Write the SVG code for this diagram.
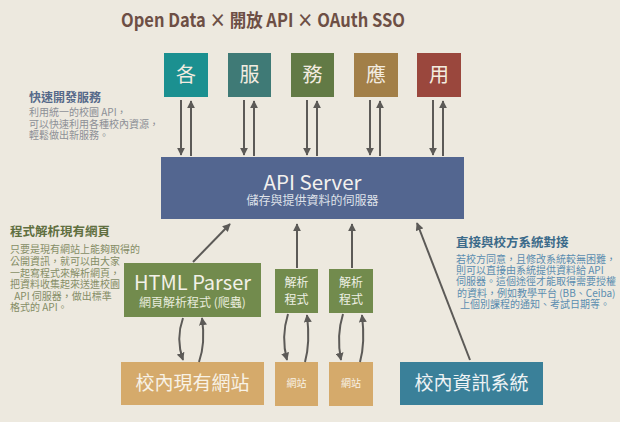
<svg xmlns="http://www.w3.org/2000/svg" width="620" height="422" viewBox="0 0 620 422">
<defs>
<marker id="ah" viewBox="0 0 10 10" refX="9" refY="5" markerWidth="8" markerHeight="8" markerUnits="userSpaceOnUse" orient="auto">
<path d="M0,0 L10,5 L0,10 z" fill="#5c5a57"/>
</marker>
<style>
text{font-family:"Noto Sans CJK TC","Noto Sans",sans-serif}
.c{text-anchor:middle}
.lbl{fill:#f3ece0}
.arr{fill:none;stroke:#5c5a57;stroke-width:2;marker-end:url(#ah)}
.body{font-size:10px}
</style>
</defs>
<rect width="620" height="422" fill="#ede9df"/>
<text x="263" y="27" class="c" font-size="18.5" font-weight="bold" fill="#6d4f45" textLength="284" lengthAdjust="spacingAndGlyphs">Open Data × 開放 API × OAuth SSO</text>

<g id="top-ge"><rect x="164" y="53" width="44" height="44" fill="#1b9090"/><text x="186" y="82" class="c lbl" font-size="20">各</text></g>
<g id="top-fu"><rect x="228" y="53" width="43" height="44" fill="#3f7a76"/><text x="249.5" y="82" class="c lbl" font-size="20">服</text></g>
<g id="top-wu"><rect x="291" y="53" width="43" height="44" fill="#627a45"/><text x="312.5" y="82" class="c lbl" font-size="20">務</text></g>
<g id="top-ying"><rect x="354" y="53" width="44" height="44" fill="#a27f48"/><text x="376" y="82" class="c lbl" font-size="20">應</text></g>
<g id="top-yong"><rect x="417" y="53" width="44" height="44" fill="#9a473d"/><text x="439" y="82" class="c lbl" font-size="20">用</text></g>

<g id="note-fast">
<text x="29" y="102" font-size="12" font-weight="bold" fill="#56698a">快速開發服務</text>
<text class="body" fill="#8c8f96"><tspan x="29" y="116">利用統一的校園 API，</tspan><tspan x="29" y="127.5">可以快速利用各種校內資源，</tspan><tspan x="29" y="139">輕鬆做出新服務。</tspan></text>
</g>

<g id="api-server"><rect x="161" y="157" width="303" height="62" fill="#536690"/>
<text x="312.5" y="190" class="c" font-size="20.5" fill="#f3f1ee">API Server</text>
<text x="312.5" y="205" class="c" font-size="12" fill="#dfe2ea">儲存與提供資料的伺服器</text></g>

<g id="note-parse">
<text x="10" y="236" font-size="12.5" font-weight="bold" fill="#5f6f40">程式解析現有網頁</text>
<text class="body" fill="#858d66"><tspan x="10" y="253">只要是現有網站上能夠取得的</tspan><tspan x="10" y="265">公開資訊，就可以由大家</tspan><tspan x="10" y="277">一起寫程式來解析網頁，</tspan><tspan x="10" y="288">把資料收集起來送進校園</tspan><tspan x="12" y="300"> API 伺服器，做出標準</tspan><tspan x="10" y="311">格式的 API。</tspan></text>
</g>

<g id="note-direct">
<text x="456" y="247" font-size="12.5" font-weight="bold" fill="#3c6b8a">直接與校方系統對接</text>
<text class="body" fill="#5b8db0"><tspan x="456" y="263">若校方同意，且修改系統較無困難，</tspan><tspan x="456" y="274">則可以直接由系統提供資料給 API</tspan><tspan x="456" y="285">伺服器。這個途徑才能取得需要授權</tspan><tspan x="457" y="297">的資料，例如教學平台 (BB、Ceiba)</tspan><tspan x="460" y="308">上個別課程的通知、考試日期等。</tspan></text>
</g>

<g id="html-parser"><rect x="124" y="263" width="137" height="54" fill="#728b4d"/>
<text x="192.5" y="290" class="c" font-size="20" fill="#f3f1e8">HTML Parser</text>
<text x="192.5" y="307" class="c" font-size="12" fill="#e8ecdc">網頁解析程式 (爬蟲)</text></g>

<g id="parser-1"><rect x="275" y="269" width="43" height="44" fill="#728b4d"/>
<text x="296.5" y="287" class="c" font-size="12" fill="#eef0e4">解析</text><text x="296.5" y="304" class="c" font-size="12" fill="#eef0e4">程式</text></g>
<g id="parser-2"><rect x="329" y="269" width="44" height="44" fill="#728b4d"/>
<text x="351" y="287" class="c" font-size="12" fill="#eef0e4">解析</text><text x="351" y="304" class="c" font-size="12" fill="#eef0e4">程式</text></g>

<g id="site-main"><rect x="121" y="362" width="143" height="43" fill="#d5aa6b"/>
<text x="192.5" y="390" class="c" font-size="19" fill="#f8f2e6">校內現有網站</text></g>
<g id="site-1"><rect x="275" y="362" width="43" height="44" fill="#d5aa6b"/>
<text x="296.5" y="387" class="c" font-size="10" fill="#f8f2e6">網站</text></g>
<g id="site-2"><rect x="329" y="362" width="44" height="44" fill="#d5aa6b"/>
<text x="351" y="387" class="c" font-size="10" fill="#f8f2e6">網站</text></g>
<g id="school-system"><rect x="400" y="362" width="143" height="43" fill="#3a8099"/>
<text x="471.5" y="390" class="c" font-size="19" fill="#eef3f5">校內資訊系統</text></g>

<g id="connectors">
<path class="arr" d="M181,100 V155"/><path class="arr" d="M191,156 V101"/>
<path class="arr" d="M244,100 V155"/><path class="arr" d="M254,156 V101"/>
<path class="arr" d="M307,100 V155"/><path class="arr" d="M317,156 V101"/>
<path class="arr" d="M370,100 V155"/><path class="arr" d="M380,156 V101"/>
<path class="arr" d="M433,100 V155"/><path class="arr" d="M443,156 V101"/>
<path class="arr" d="M193,262 L230,224"/>
<path class="arr" d="M297,268 V224"/>
<path class="arr" d="M352,268 V224"/>
<path class="arr" d="M470,360 L417,223"/>
<path class="arr" d="M183,318 C178,332 178,346 183,360"/>
<path class="arr" d="M199,362 C204,348 204,332 202,318"/>
<path class="arr" d="M288,314 C283,330 283,345 287,360"/>
<path class="arr" d="M305,362 C309,348 309,332 307,315"/>
<path class="arr" d="M343,314 C338,330 338,345 341,360"/>
<path class="arr" d="M360,362 C364,348 364,332 362,315"/>
</g>
</svg>
